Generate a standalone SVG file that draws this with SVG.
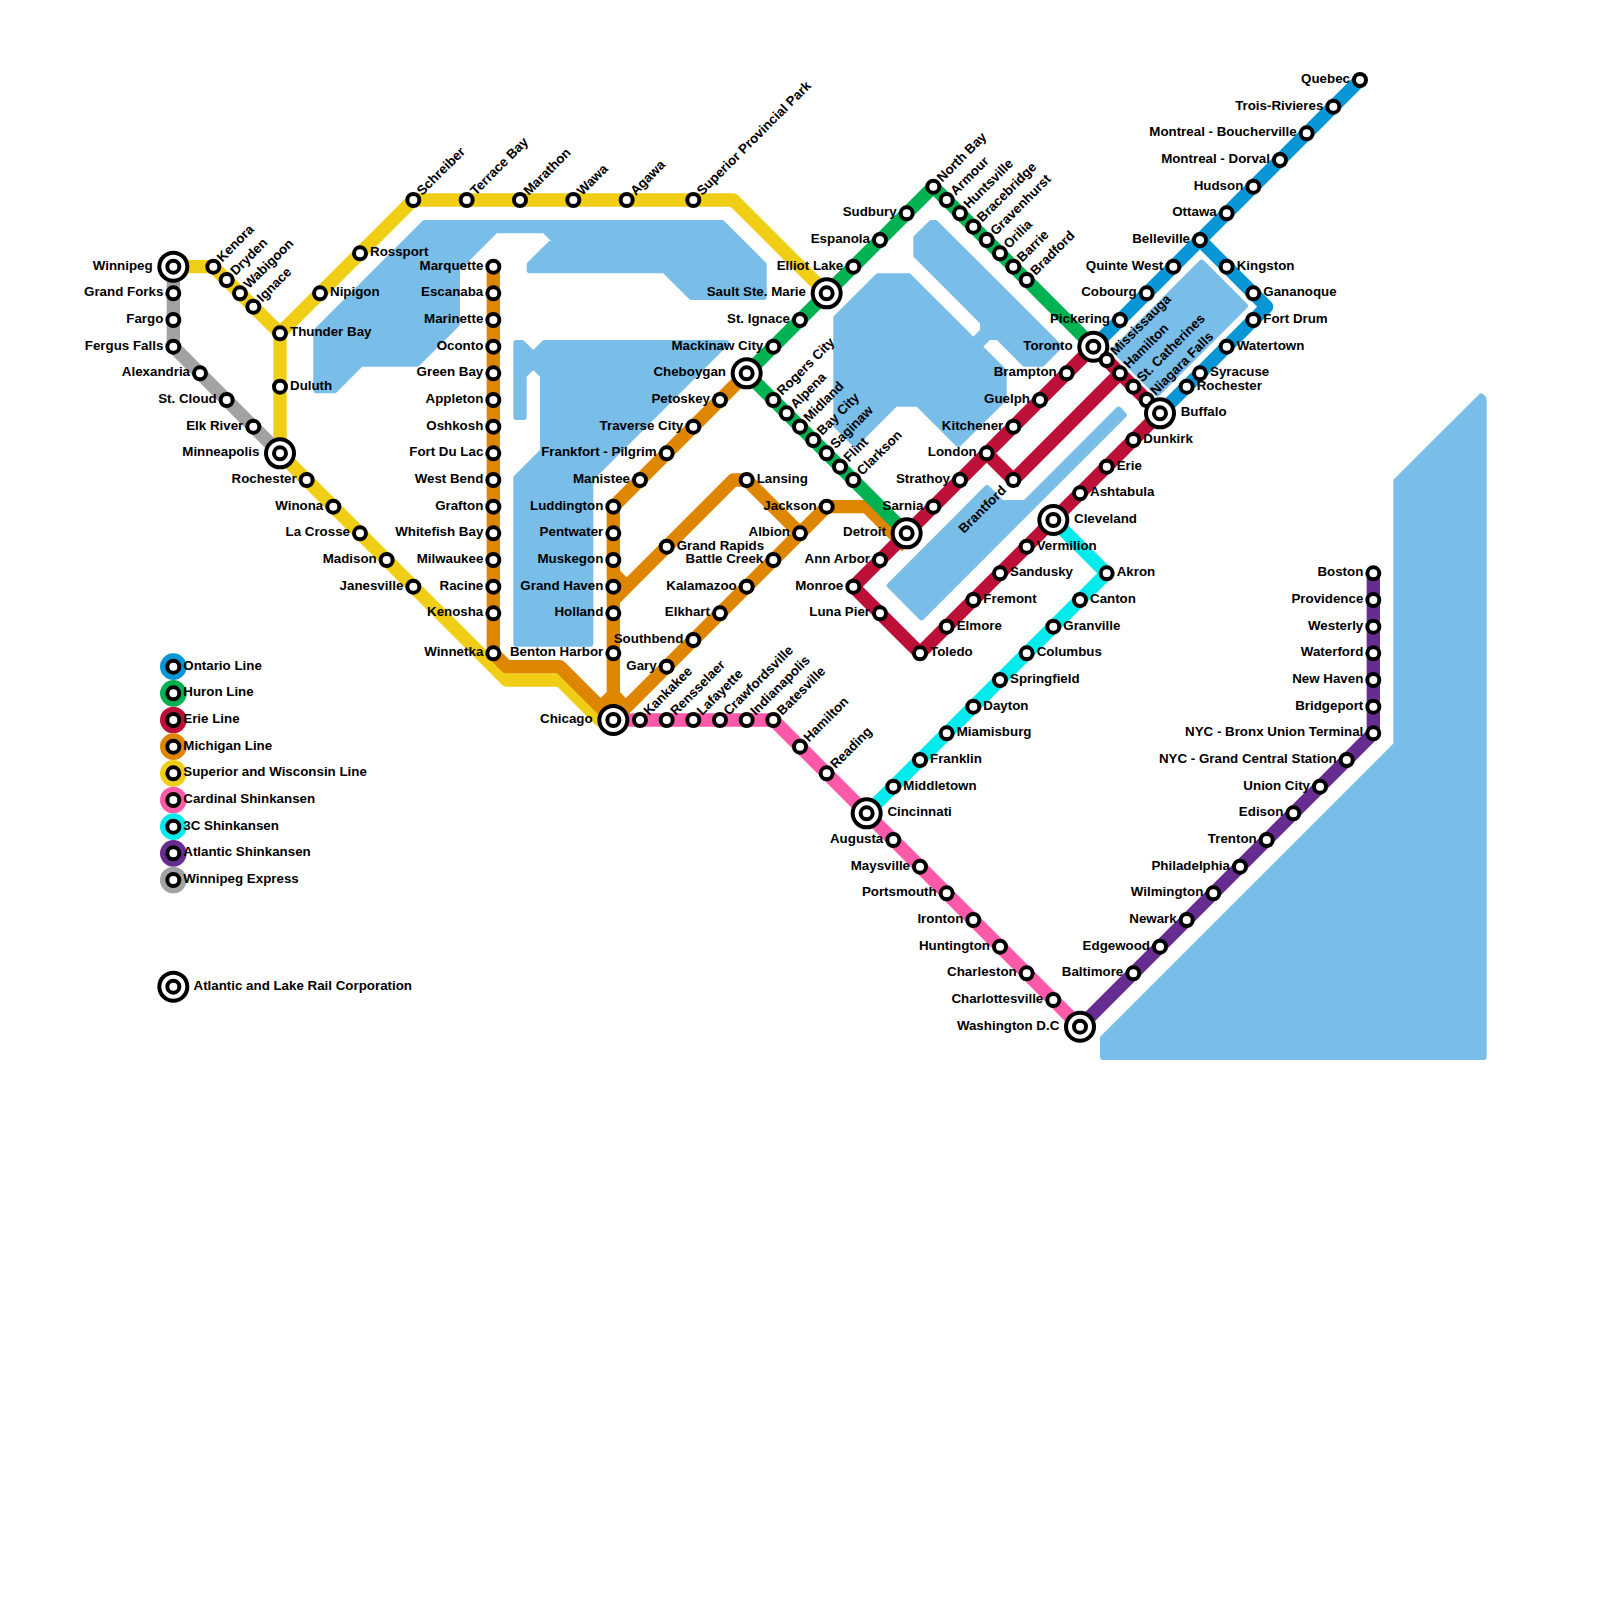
<svg xmlns="http://www.w3.org/2000/svg" width="1600" height="1600" viewBox="0 0 1600 1600">
<style>
.w{fill:#79bde9;stroke:#79bde9;stroke-width:6;stroke-linejoin:round}
.c{fill:none;stroke-width:13.33;stroke-linejoin:round;stroke-linecap:butt}
.s{fill:#fff;stroke:#000;stroke-width:4}
.o{fill:#fff;stroke:#000;stroke-width:4}
text{font-family:"Liberation Sans",Arial,sans-serif;font-size:13.33px;font-weight:bold;fill:#000}
.l{text-anchor:end}
.r{text-anchor:start}
</style>
<rect width="1600" height="1600" fill="#fff"/>
<g id="water">
<polygon class="w" points="424.6,223 722.1,223 763.67,264.6 763.67,297 691.2,297 664.6,270.33 529.67,270.33 529.67,264.6 554.24,240 544.57,230.33 495.43,230.33 457,268.76 457,323.76 417.1,363.67 361.1,363.67 334.4,390.33 316.33,390.33 316.33,331.27"/>
<polygon class="w" points="516.33,343 522.1,343 533.33,354.2 544.6,343 726.1,343 590.33,478.8 590.33,643.67 516.33,643.67 516.33,477.9 543,451.24 543,375.43 533.33,365.76 523.67,375.42 523.67,417 516.33,417"/>
<polygon class="w" points="877.91,276.33 908.76,276.33 973.33,340.9 983,331.24 983,322.09 916.33,255.42 916.33,237.91 931.24,223 935.43,223 1059.1,346.67 1042.09,363.67 1024.58,363.67 997.91,337 988.76,337 979.1,346.67 1003.67,371.24 1003.67,398.76 958.3,444.1 917.91,403.67 895.42,403.67 855,444.09 836.33,425.42 836.33,317.91"/>
<polygon class="w" points="889.74,585.5 987,488.24 1001.76,503 1025.24,503 1118.57,409.67 1123.67,415.09 921.5,617.26"/>
<polygon class="w" points="1114.24,350 1201.67,262.57 1244.9,305.8 1157.5,393.26"/>
<polygon class="w" points="1396.33,481.24 1481,396.5 1483.67,399 1483.67,1057 1103,1057 1103,1038.24 1396.33,744.91"/>
</g>
<g id="connectors">
<path id="winnipeg-express" class="c" stroke="#a1a2a1" d="M173.33,266.67V346.67L280,453.33"/>
<path id="atlantic-shinkansen" class="c" stroke="#662c90" d="M1080,1026.67L1373.33,733.33V573.33"/>
<path id="c3-shinkansen" class="c" stroke="#00ebeb" d="M1053.33,520L1106.67,573.33L866.67,813.33"/>
<path id="cardinal-shinkansen" class="c" stroke="#ff5aaa" d="M613.33,720H773.33L1080,1026.67"/>
<path id="superior-line" class="c" stroke="#f0ce15" d="M173.33,266.67H213.33L280,333.33L413.33,200H733.33L826.67,293.33M280,333.33V453.33L506.67,680H560L600,720H613.33"/>
<path id="michigan-line" class="c" stroke="#df8600" d="M493.33,266.67V653.33L506.67,666.67H560L613.33,720V506.67L746.67,373.33M613.33,720L826.67,506.67H866.67L906.67,546.67M826.67,506.67L800,533.33L746.67,480H733.33L613.33,600M613.33,573.33L626.67,586.67M598,710L613.33,694.67L628,710"/>
<path id="erie-line" class="c" stroke="#bd1038" d="M1093.33,346.67L853.33,586.67L920,653.33L1160,413.33L1093.33,346.67M986.67,453.33L1013.33,480L1120,373.33"/>
<path id="huron-line" class="c" stroke="#00b251" d="M746.67,373.33L933.33,186.67L1093.33,346.67M746.67,373.33L906.67,533.33"/>
<path id="ontario-line" class="c" stroke="#0896d7" d="M1093.33,346.67L1360,80M1200,240L1266.67,306.67L1160,413.33"/>
</g>
<g id="legend">
<g id="legend-ontario"><circle cx="173.33" cy="666.67" r="13.33" fill="#0896d7"/><circle class="s" cx="173.33" cy="666.67" r="6"/><text x="183.3" y="669.7">Ontario Line</text></g>
<g id="legend-huron"><circle cx="173.33" cy="693.33" r="13.33" fill="#00b251"/><circle class="s" cx="173.33" cy="693.33" r="6"/><text x="183.3" y="696.3">Huron Line</text></g>
<g id="legend-erie"><circle cx="173.33" cy="720" r="13.33" fill="#bd1038"/><circle class="s" cx="173.33" cy="720" r="6"/><text x="183.3" y="723">Erie Line</text></g>
<g id="legend-michigan"><circle cx="173.33" cy="746.67" r="13.33" fill="#df8600"/><circle class="s" cx="173.33" cy="746.67" r="6"/><text x="183.3" y="749.7">Michigan Line</text></g>
<g id="legend-superior"><circle cx="173.33" cy="773.33" r="13.33" fill="#f0ce15"/><circle class="s" cx="173.33" cy="773.33" r="6"/><text x="183.3" y="776.3">Superior and Wisconsin Line</text></g>
<g id="legend-cardinal"><circle cx="173.33" cy="800" r="13.33" fill="#ff5aaa"/><circle class="s" cx="173.33" cy="800" r="6"/><text x="183.3" y="803">Cardinal Shinkansen</text></g>
<g id="legend-3c"><circle cx="173.33" cy="826.67" r="13.33" fill="#00ebeb"/><circle class="s" cx="173.33" cy="826.67" r="6"/><text x="183.3" y="829.7">3C Shinkansen</text></g>
<g id="legend-atlantic"><circle cx="173.33" cy="853.33" r="13.33" fill="#662c90"/><circle class="s" cx="173.33" cy="853.33" r="6"/><text x="183.3" y="856.3">Atlantic Shinkansen</text></g>
<g id="legend-winnipeg"><circle cx="173.33" cy="880" r="13.33" fill="#a1a2a1"/><circle class="s" cx="173.33" cy="880" r="6"/><text x="183.3" y="883">Winnipeg Express</text></g>
<g id="legend-corp"><circle class="o" cx="173.33" cy="986.67" r="14"/><circle class="s" cx="173.33" cy="986.67" r="6"/><text x="193.5" y="989.7">Atlantic and Lake Rail Corporation</text></g>
</g>
<g id="nodes">
<g id="winnipeg"><circle class="o" cx="173.33" cy="266.67" r="14"/><circle class="s" cx="173.33" cy="266.67" r="6"/><text class="l" x="152.6" y="269.7">Winnipeg</text></g>
<g id="grand-forks"><circle class="s" cx="173.33" cy="293.33" r="6"/><text class="l" x="163.3" y="296.3">Grand Forks</text></g>
<g id="fargo"><circle class="s" cx="173.33" cy="320" r="6"/><text class="l" x="163.3" y="323">Fargo</text></g>
<g id="fergus-falls"><circle class="s" cx="173.33" cy="346.67" r="6"/><text class="l" x="163.3" y="349.7">Fergus Falls</text></g>
<g id="alexandria"><circle class="s" cx="200" cy="373.33" r="6"/><text class="l" x="190" y="376.3">Alexandria</text></g>
<g id="st-cloud"><circle class="s" cx="226.67" cy="400" r="6"/><text class="l" x="216.7" y="403">St. Cloud</text></g>
<g id="elk-river"><circle class="s" cx="253.33" cy="426.67" r="6"/><text class="l" x="243.3" y="429.7">Elk River</text></g>
<g id="minneapolis"><circle class="o" cx="280" cy="453.33" r="14"/><circle class="s" cx="280" cy="453.33" r="6"/><text class="l" x="259.3" y="456.3">Minneapolis</text></g>
<g id="kenora"><circle class="s" cx="213.33" cy="266.67" r="6"/><text transform="translate(222.3,262.67) rotate(-45)">Kenora</text></g>
<g id="dryden"><circle class="s" cx="226.67" cy="280" r="6"/><text transform="translate(235.67,276) rotate(-45)">Dryden</text></g>
<g id="wabigoon"><circle class="s" cx="240" cy="293.33" r="6"/><text transform="translate(249,289.33) rotate(-45)">Wabigoon</text></g>
<g id="ignace"><circle class="s" cx="253.33" cy="306.67" r="6"/><text transform="translate(262.33,302.67) rotate(-45)">Ignace</text></g>
<g id="thunder-bay"><circle class="s" cx="280" cy="333.33" r="6"/><text class="r" x="290" y="336.3">Thunder Bay</text></g>
<g id="duluth"><circle class="s" cx="280" cy="386.67" r="6"/><text class="r" x="290" y="389.7">Duluth</text></g>
<g id="nipigon"><circle class="s" cx="320" cy="293.33" r="6"/><text class="r" x="330" y="296.3">Nipigon</text></g>
<g id="rossport"><circle class="s" cx="360" cy="253.33" r="6"/><text class="r" x="370" y="256.3">Rossport</text></g>
<g id="schreiber"><circle class="s" cx="413.33" cy="200" r="6"/><text transform="translate(422.33,196) rotate(-45)">Schreiber</text></g>
<g id="terrace-bay"><circle class="s" cx="466.67" cy="200" r="6"/><text transform="translate(475.67,196) rotate(-45)">Terrace Bay</text></g>
<g id="marathon"><circle class="s" cx="520" cy="200" r="6"/><text transform="translate(529,196) rotate(-45)">Marathon</text></g>
<g id="wawa"><circle class="s" cx="573.33" cy="200" r="6"/><text transform="translate(582.33,196) rotate(-45)">Wawa</text></g>
<g id="agawa"><circle class="s" cx="626.67" cy="200" r="6"/><text transform="translate(635.67,196) rotate(-45)">Agawa</text></g>
<g id="superior-provincial-park"><circle class="s" cx="693.33" cy="200" r="6"/><text transform="translate(702.33,196) rotate(-45)">Superior Provincial Park</text></g>
<g id="sault-ste-marie"><circle class="o" cx="826.67" cy="293.33" r="14"/><circle class="s" cx="826.67" cy="293.33" r="6"/><text class="l" x="806" y="296.3">Sault Ste. Marie</text></g>
<g id="rochester-mn"><circle class="s" cx="306.67" cy="480" r="6"/><text class="l" x="296.7" y="483">Rochester</text></g>
<g id="winona"><circle class="s" cx="333.33" cy="506.67" r="6"/><text class="l" x="323.3" y="509.7">Winona</text></g>
<g id="la-crosse"><circle class="s" cx="360" cy="533.33" r="6"/><text class="l" x="350" y="536.3">La Crosse</text></g>
<g id="madison"><circle class="s" cx="386.67" cy="560" r="6"/><text class="l" x="376.7" y="563">Madison</text></g>
<g id="janesville"><circle class="s" cx="413.33" cy="586.67" r="6"/><text class="l" x="403.3" y="589.7">Janesville</text></g>
<g id="marquette"><circle class="s" cx="493.33" cy="266.67" r="6"/><text class="l" x="483.3" y="269.7">Marquette</text></g>
<g id="escanaba"><circle class="s" cx="493.33" cy="293.33" r="6"/><text class="l" x="483.3" y="296.3">Escanaba</text></g>
<g id="marinette"><circle class="s" cx="493.33" cy="320" r="6"/><text class="l" x="483.3" y="323">Marinette</text></g>
<g id="oconto"><circle class="s" cx="493.33" cy="346.67" r="6"/><text class="l" x="483.3" y="349.7">Oconto</text></g>
<g id="green-bay"><circle class="s" cx="493.33" cy="373.33" r="6"/><text class="l" x="483.3" y="376.3">Green Bay</text></g>
<g id="appleton"><circle class="s" cx="493.33" cy="400" r="6"/><text class="l" x="483.3" y="403">Appleton</text></g>
<g id="oshkosh"><circle class="s" cx="493.33" cy="426.67" r="6"/><text class="l" x="483.3" y="429.7">Oshkosh</text></g>
<g id="fort-du-lac"><circle class="s" cx="493.33" cy="453.33" r="6"/><text class="l" x="483.3" y="456.3">Fort Du Lac</text></g>
<g id="west-bend"><circle class="s" cx="493.33" cy="480" r="6"/><text class="l" x="483.3" y="483">West Bend</text></g>
<g id="grafton"><circle class="s" cx="493.33" cy="506.67" r="6"/><text class="l" x="483.3" y="509.7">Grafton</text></g>
<g id="whitefish-bay"><circle class="s" cx="493.33" cy="533.33" r="6"/><text class="l" x="483.3" y="536.3">Whitefish Bay</text></g>
<g id="milwaukee"><circle class="s" cx="493.33" cy="560" r="6"/><text class="l" x="483.3" y="563">Milwaukee</text></g>
<g id="racine"><circle class="s" cx="493.33" cy="586.67" r="6"/><text class="l" x="483.3" y="589.7">Racine</text></g>
<g id="kenosha"><circle class="s" cx="493.33" cy="613.33" r="6"/><text class="l" x="483.3" y="616.3">Kenosha</text></g>
<g id="winnetka"><circle class="s" cx="493.33" cy="653.33" r="6"/><text class="l" x="483.3" y="656.3">Winnetka</text></g>
<g id="chicago"><circle class="o" cx="613.33" cy="720" r="14"/><circle class="s" cx="613.33" cy="720" r="6"/><text class="l" x="592.6" y="723">Chicago</text></g>
<g id="benton-harbor"><circle class="s" cx="613.33" cy="653.33" r="6"/><text class="l" x="603.3" y="656.3">Benton Harbor</text></g>
<g id="holland"><circle class="s" cx="613.33" cy="613.33" r="6"/><text class="l" x="603.3" y="616.3">Holland</text></g>
<g id="grand-haven"><circle class="s" cx="613.33" cy="586.67" r="6"/><text class="l" x="603.3" y="589.7">Grand Haven</text></g>
<g id="muskegon"><circle class="s" cx="613.33" cy="560" r="6"/><text class="l" x="603.3" y="563">Muskegon</text></g>
<g id="pentwater"><circle class="s" cx="613.33" cy="533.33" r="6"/><text class="l" x="603.3" y="536.3">Pentwater</text></g>
<g id="luddington"><circle class="s" cx="613.33" cy="506.67" r="6"/><text class="l" x="603.3" y="509.7">Luddington</text></g>
<g id="manistee"><circle class="s" cx="640" cy="480" r="6"/><text class="l" x="630" y="483">Manistee</text></g>
<g id="frankfort-pilgrim"><circle class="s" cx="666.67" cy="453.33" r="6"/><text class="l" x="656.7" y="456.3">Frankfort - Pilgrim</text></g>
<g id="traverse-city"><circle class="s" cx="693.33" cy="426.67" r="6"/><text class="l" x="683.3" y="429.7">Traverse City</text></g>
<g id="petoskey"><circle class="s" cx="720" cy="400" r="6"/><text class="l" x="710" y="403">Petoskey</text></g>
<g id="cheboygan"><circle class="o" cx="746.67" cy="373.33" r="14"/><circle class="s" cx="746.67" cy="373.33" r="6"/><text class="l" x="726" y="376.3">Cheboygan</text></g>
<g id="mackinaw-city"><circle class="s" cx="773.33" cy="346.67" r="6"/><text class="l" x="763.3" y="349.7">Mackinaw City</text></g>
<g id="st-ignace"><circle class="s" cx="800" cy="320" r="6"/><text class="l" x="790" y="323">St. Ignace</text></g>
<g id="elliot-lake"><circle class="s" cx="853.33" cy="266.67" r="6"/><text class="l" x="843.3" y="269.7">Elliot Lake</text></g>
<g id="espanola"><circle class="s" cx="880" cy="240" r="6"/><text class="l" x="870" y="243">Espanola</text></g>
<g id="sudbury"><circle class="s" cx="906.67" cy="213.33" r="6"/><text class="l" x="896.7" y="216.3">Sudbury</text></g>
<g id="north-bay"><circle class="s" cx="933.33" cy="186.67" r="6"/><text transform="translate(942.33,182.67) rotate(-45)">North Bay</text></g>
<g id="armour"><circle class="s" cx="946.67" cy="200" r="6"/><text transform="translate(955.67,196) rotate(-45)">Armour</text></g>
<g id="huntsville"><circle class="s" cx="960" cy="213.33" r="6"/><text transform="translate(969,209.33) rotate(-45)">Huntsville</text></g>
<g id="bracebridge"><circle class="s" cx="973.33" cy="226.67" r="6"/><text transform="translate(982.33,222.67) rotate(-45)">Bracebridge</text></g>
<g id="gravenhurst"><circle class="s" cx="986.67" cy="240" r="6"/><text transform="translate(995.67,236) rotate(-45)">Gravenhurst</text></g>
<g id="orilia"><circle class="s" cx="1000" cy="253.33" r="6"/><text transform="translate(1009,249.33) rotate(-45)">Orilia</text></g>
<g id="barrie"><circle class="s" cx="1013.33" cy="266.67" r="6"/><text transform="translate(1022.33,262.67) rotate(-45)">Barrie</text></g>
<g id="bradford"><circle class="s" cx="1026.67" cy="280" r="6"/><text transform="translate(1035.67,276) rotate(-45)">Bradford</text></g>
<g id="toronto"><circle class="o" cx="1093.33" cy="346.67" r="14"/><circle class="s" cx="1093.33" cy="346.67" r="6"/><text class="l" x="1072.6" y="349.7">Toronto</text></g>
<g id="rogers-city"><circle class="s" cx="773.33" cy="400" r="6"/><text transform="translate(782.33,396) rotate(-45)">Rogers City</text></g>
<g id="alpena"><circle class="s" cx="786.67" cy="413.33" r="6"/><text transform="translate(795.67,409.33) rotate(-45)">Alpena</text></g>
<g id="midland"><circle class="s" cx="800" cy="426.67" r="6"/><text transform="translate(809,422.67) rotate(-45)">Midland</text></g>
<g id="bay-city"><circle class="s" cx="813.33" cy="440" r="6"/><text transform="translate(822.33,436) rotate(-45)">Bay City</text></g>
<g id="saginaw"><circle class="s" cx="826.67" cy="453.33" r="6"/><text transform="translate(835.67,449.33) rotate(-45)">Saginaw</text></g>
<g id="flint"><circle class="s" cx="840" cy="466.67" r="6"/><text transform="translate(849,462.67) rotate(-45)">Flint</text></g>
<g id="clarkson"><circle class="s" cx="853.33" cy="480" r="6"/><text transform="translate(862.33,476) rotate(-45)">Clarkson</text></g>
<g id="detroit"><circle class="o" cx="906.67" cy="533.33" r="14"/><circle class="s" cx="906.67" cy="533.33" r="6"/><text class="l" x="886" y="536.3">Detroit</text></g>
<g id="lansing"><circle class="s" cx="746.67" cy="480" r="6"/><text class="r" x="756.7" y="483">Lansing</text></g>
<g id="jackson"><circle class="s" cx="826.67" cy="506.67" r="6"/><text class="l" x="816.7" y="509.7">Jackson</text></g>
<g id="albion"><circle class="s" cx="800" cy="533.33" r="6"/><text class="l" x="790" y="536.3">Albion</text></g>
<g id="grand-rapids"><circle class="s" cx="666.67" cy="546.67" r="6"/><text class="r" x="676.7" y="549.7">Grand Rapids</text></g>
<g id="battle-creek"><circle class="s" cx="773.33" cy="560" r="6"/><text class="l" x="763.3" y="563">Battle Creek</text></g>
<g id="kalamazoo"><circle class="s" cx="746.67" cy="586.67" r="6"/><text class="l" x="736.7" y="589.7">Kalamazoo</text></g>
<g id="elkhart"><circle class="s" cx="720" cy="613.33" r="6"/><text class="l" x="710" y="616.3">Elkhart</text></g>
<g id="southbend"><circle class="s" cx="693.33" cy="640" r="6"/><text class="l" x="683.3" y="643">Southbend</text></g>
<g id="gary"><circle class="s" cx="666.67" cy="666.67" r="6"/><text class="l" x="656.7" y="669.7">Gary</text></g>
<g id="kankakee"><circle class="s" cx="640" cy="720" r="6"/><text transform="translate(649,716) rotate(-45)">Kankakee</text></g>
<g id="rensselaer"><circle class="s" cx="666.67" cy="720" r="6"/><text transform="translate(675.67,716) rotate(-45)">Rensselaer</text></g>
<g id="lafayette"><circle class="s" cx="693.33" cy="720" r="6"/><text transform="translate(702.33,716) rotate(-45)">Lafayette</text></g>
<g id="crawfordsville"><circle class="s" cx="720" cy="720" r="6"/><text transform="translate(729,716) rotate(-45)">Crawfordsville</text></g>
<g id="indianapolis"><circle class="s" cx="746.67" cy="720" r="6"/><text transform="translate(755.67,716) rotate(-45)">Indianapolis</text></g>
<g id="batesville"><circle class="s" cx="773.33" cy="720" r="6"/><text transform="translate(782.33,716) rotate(-45)">Batesville</text></g>
<g id="hamilton-oh"><circle class="s" cx="800" cy="746.67" r="6"/><text transform="translate(809,742.67) rotate(-45)">Hamilton</text></g>
<g id="reading"><circle class="s" cx="826.67" cy="773.33" r="6"/><text transform="translate(835.67,769.33) rotate(-45)">Reading</text></g>
<g id="cincinnati"><circle class="o" cx="866.67" cy="813.33" r="14"/><circle class="s" cx="866.67" cy="813.33" r="6"/><text class="r" x="887.4" y="816.3">Cincinnati</text></g>
<g id="augusta"><circle class="s" cx="893.33" cy="840" r="6"/><text class="l" x="883.3" y="843">Augusta</text></g>
<g id="maysville"><circle class="s" cx="920" cy="866.67" r="6"/><text class="l" x="910" y="869.7">Maysville</text></g>
<g id="portsmouth"><circle class="s" cx="946.67" cy="893.33" r="6"/><text class="l" x="936.7" y="896.3">Portsmouth</text></g>
<g id="ironton"><circle class="s" cx="973.33" cy="920" r="6"/><text class="l" x="963.3" y="923">Ironton</text></g>
<g id="huntington"><circle class="s" cx="1000" cy="946.67" r="6"/><text class="l" x="990" y="949.7">Huntington</text></g>
<g id="charleston"><circle class="s" cx="1026.67" cy="973.33" r="6"/><text class="l" x="1016.7" y="976.3">Charleston</text></g>
<g id="charlottesville"><circle class="s" cx="1053.33" cy="1000" r="6"/><text class="l" x="1043.3" y="1003">Charlottesville</text></g>
<g id="washington-dc"><circle class="o" cx="1080" cy="1026.67" r="14"/><circle class="s" cx="1080" cy="1026.67" r="6"/><text class="l" x="1059.3" y="1029.7">Washington D.C</text></g>
<g id="middletown"><circle class="s" cx="893.33" cy="786.67" r="6"/><text class="r" x="903.3" y="789.7">Middletown</text></g>
<g id="franklin"><circle class="s" cx="920" cy="760" r="6"/><text class="r" x="930" y="763">Franklin</text></g>
<g id="miamisburg"><circle class="s" cx="946.67" cy="733.33" r="6"/><text class="r" x="956.7" y="736.3">Miamisburg</text></g>
<g id="dayton"><circle class="s" cx="973.33" cy="706.67" r="6"/><text class="r" x="983.3" y="709.7">Dayton</text></g>
<g id="springfield"><circle class="s" cx="1000" cy="680" r="6"/><text class="r" x="1010" y="683">Springfield</text></g>
<g id="columbus"><circle class="s" cx="1026.67" cy="653.33" r="6"/><text class="r" x="1036.7" y="656.3">Columbus</text></g>
<g id="granville"><circle class="s" cx="1053.33" cy="626.67" r="6"/><text class="r" x="1063.3" y="629.7">Granville</text></g>
<g id="canton"><circle class="s" cx="1080" cy="600" r="6"/><text class="r" x="1090" y="603">Canton</text></g>
<g id="akron"><circle class="s" cx="1106.67" cy="573.33" r="6"/><text class="r" x="1116.7" y="576.3">Akron</text></g>
<g id="cleveland"><circle class="o" cx="1053.33" cy="520" r="14"/><circle class="s" cx="1053.33" cy="520" r="6"/><text class="r" x="1074" y="523">Cleveland</text></g>
<g id="vermilion"><circle class="s" cx="1026.67" cy="546.67" r="6"/><text class="r" x="1036.7" y="549.7">Vermilion</text></g>
<g id="sandusky"><circle class="s" cx="1000" cy="573.33" r="6"/><text class="r" x="1010" y="576.3">Sandusky</text></g>
<g id="fremont"><circle class="s" cx="973.33" cy="600" r="6"/><text class="r" x="983.3" y="603">Fremont</text></g>
<g id="elmore"><circle class="s" cx="946.67" cy="626.67" r="6"/><text class="r" x="956.7" y="629.7">Elmore</text></g>
<g id="toledo"><circle class="s" cx="920" cy="653.33" r="6"/><text class="r" x="930" y="656.3">Toledo</text></g>
<g id="luna-pier"><circle class="s" cx="880" cy="613.33" r="6"/><text class="l" x="870" y="616.3">Luna Pier</text></g>
<g id="monroe"><circle class="s" cx="853.33" cy="586.67" r="6"/><text class="l" x="843.3" y="589.7">Monroe</text></g>
<g id="ann-arbor"><circle class="s" cx="880" cy="560" r="6"/><text class="l" x="870" y="563">Ann Arbor</text></g>
<g id="sarnia"><circle class="s" cx="933.33" cy="506.67" r="6"/><text class="l" x="923.3" y="509.7">Sarnia</text></g>
<g id="strathoy"><circle class="s" cx="960" cy="480" r="6"/><text class="l" x="950" y="483">Strathoy</text></g>
<g id="london"><circle class="s" cx="986.67" cy="453.33" r="6"/><text class="l" x="976.7" y="456.3">London</text></g>
<g id="kitchener"><circle class="s" cx="1013.33" cy="426.67" r="6"/><text class="l" x="1003.3" y="429.7">Kitchener</text></g>
<g id="guelph"><circle class="s" cx="1040" cy="400" r="6"/><text class="l" x="1030" y="403">Guelph</text></g>
<g id="brampton"><circle class="s" cx="1066.67" cy="373.33" r="6"/><text class="l" x="1056.7" y="376.3">Brampton</text></g>
<g id="brantford"><circle class="s" cx="1013.33" cy="480" r="6"/><text class="l" transform="translate(1007,491) rotate(-45)">Brantford</text></g>
<g id="mississauga"><circle class="s" cx="1106.67" cy="360" r="6"/><text transform="translate(1115.67,356) rotate(-45)">Mississauga</text></g>
<g id="hamilton-on"><circle class="s" cx="1120" cy="373.33" r="6"/><text transform="translate(1129,369.33) rotate(-45)">Hamilton</text></g>
<g id="st-catherines"><circle class="s" cx="1133.33" cy="386.67" r="6"/><text transform="translate(1142.33,382.67) rotate(-45)">St. Catherines</text></g>
<g id="niagara-falls"><circle class="s" cx="1146.67" cy="400" r="6"/><text transform="translate(1155.67,396) rotate(-45)">Niagara Falls</text></g>
<g id="buffalo"><circle class="o" cx="1160" cy="413.33" r="14"/><circle class="s" cx="1160" cy="413.33" r="6"/><text class="r" x="1180.7" y="416.3">Buffalo</text></g>
<g id="dunkirk"><circle class="s" cx="1133.33" cy="440" r="6"/><text class="r" x="1143.3" y="443">Dunkirk</text></g>
<g id="erie"><circle class="s" cx="1106.67" cy="466.67" r="6"/><text class="r" x="1116.7" y="469.7">Erie</text></g>
<g id="ashtabula"><circle class="s" cx="1080" cy="493.33" r="6"/><text class="r" x="1090" y="496.3">Ashtabula</text></g>
<g id="quebec"><circle class="s" cx="1360" cy="80" r="6"/><text class="l" x="1350" y="83">Quebec</text></g>
<g id="trois-rivieres"><circle class="s" cx="1333.33" cy="106.67" r="6"/><text class="l" x="1323.3" y="109.7">Trois-Rivieres</text></g>
<g id="montreal-boucherville"><circle class="s" cx="1306.67" cy="133.33" r="6"/><text class="l" x="1296.7" y="136.3">Montreal - Boucherville</text></g>
<g id="montreal-dorval"><circle class="s" cx="1280" cy="160" r="6"/><text class="l" x="1270" y="163">Montreal - Dorval</text></g>
<g id="hudson"><circle class="s" cx="1253.33" cy="186.67" r="6"/><text class="l" x="1243.3" y="189.7">Hudson</text></g>
<g id="ottawa"><circle class="s" cx="1226.67" cy="213.33" r="6"/><text class="l" x="1216.7" y="216.3">Ottawa</text></g>
<g id="belleville"><circle class="s" cx="1200" cy="240" r="6"/><text class="l" x="1190" y="243">Belleville</text></g>
<g id="quinte-west"><circle class="s" cx="1173.33" cy="266.67" r="6"/><text class="l" x="1163.3" y="269.7">Quinte West</text></g>
<g id="cobourg"><circle class="s" cx="1146.67" cy="293.33" r="6"/><text class="l" x="1136.7" y="296.3">Cobourg</text></g>
<g id="pickering"><circle class="s" cx="1120" cy="320" r="6"/><text class="l" x="1110" y="323">Pickering</text></g>
<g id="kingston"><circle class="s" cx="1226.67" cy="266.67" r="6"/><text class="r" x="1236.7" y="269.7">Kingston</text></g>
<g id="gananoque"><circle class="s" cx="1253.33" cy="293.33" r="6"/><text class="r" x="1263.3" y="296.3">Gananoque</text></g>
<g id="fort-drum"><circle class="s" cx="1253.33" cy="320" r="6"/><text class="r" x="1263.3" y="323">Fort Drum</text></g>
<g id="watertown"><circle class="s" cx="1226.67" cy="346.67" r="6"/><text class="r" x="1236.7" y="349.7">Watertown</text></g>
<g id="syracuse"><circle class="s" cx="1200" cy="373.33" r="6"/><text class="r" x="1210" y="376.3">Syracuse</text></g>
<g id="rochester-ny"><circle class="s" cx="1186.67" cy="386.67" r="6"/><text class="r" x="1196.7" y="389.7">Rochester</text></g>
<g id="boston"><circle class="s" cx="1373.33" cy="573.33" r="6"/><text class="l" x="1363.3" y="576.3">Boston</text></g>
<g id="providence"><circle class="s" cx="1373.33" cy="600" r="6"/><text class="l" x="1363.3" y="603">Providence</text></g>
<g id="westerly"><circle class="s" cx="1373.33" cy="626.67" r="6"/><text class="l" x="1363.3" y="629.7">Westerly</text></g>
<g id="waterford"><circle class="s" cx="1373.33" cy="653.33" r="6"/><text class="l" x="1363.3" y="656.3">Waterford</text></g>
<g id="new-haven"><circle class="s" cx="1373.33" cy="680" r="6"/><text class="l" x="1363.3" y="683">New Haven</text></g>
<g id="bridgeport"><circle class="s" cx="1373.33" cy="706.67" r="6"/><text class="l" x="1363.3" y="709.7">Bridgeport</text></g>
<g id="nyc-bronx"><circle class="s" cx="1373.33" cy="733.33" r="6"/><text class="l" x="1363.3" y="736.3">NYC - Bronx Union Terminal</text></g>
<g id="nyc-grand-central"><circle class="s" cx="1346.67" cy="760" r="6"/><text class="l" x="1336.7" y="763">NYC - Grand Central Station</text></g>
<g id="union-city"><circle class="s" cx="1320" cy="786.67" r="6"/><text class="l" x="1310" y="789.7">Union City</text></g>
<g id="edison"><circle class="s" cx="1293.33" cy="813.33" r="6"/><text class="l" x="1283.3" y="816.3">Edison</text></g>
<g id="trenton"><circle class="s" cx="1266.67" cy="840" r="6"/><text class="l" x="1256.7" y="843">Trenton</text></g>
<g id="philadelphia"><circle class="s" cx="1240" cy="866.67" r="6"/><text class="l" x="1230" y="869.7">Philadelphia</text></g>
<g id="wilmington"><circle class="s" cx="1213.33" cy="893.33" r="6"/><text class="l" x="1203.3" y="896.3">Wilmington</text></g>
<g id="newark"><circle class="s" cx="1186.67" cy="920" r="6"/><text class="l" x="1176.7" y="923">Newark</text></g>
<g id="edgewood"><circle class="s" cx="1160" cy="946.67" r="6"/><text class="l" x="1150" y="949.7">Edgewood</text></g>
<g id="baltimore"><circle class="s" cx="1133.33" cy="973.33" r="6"/><text class="l" x="1123.3" y="976.3">Baltimore</text></g>
</g>
</svg>
